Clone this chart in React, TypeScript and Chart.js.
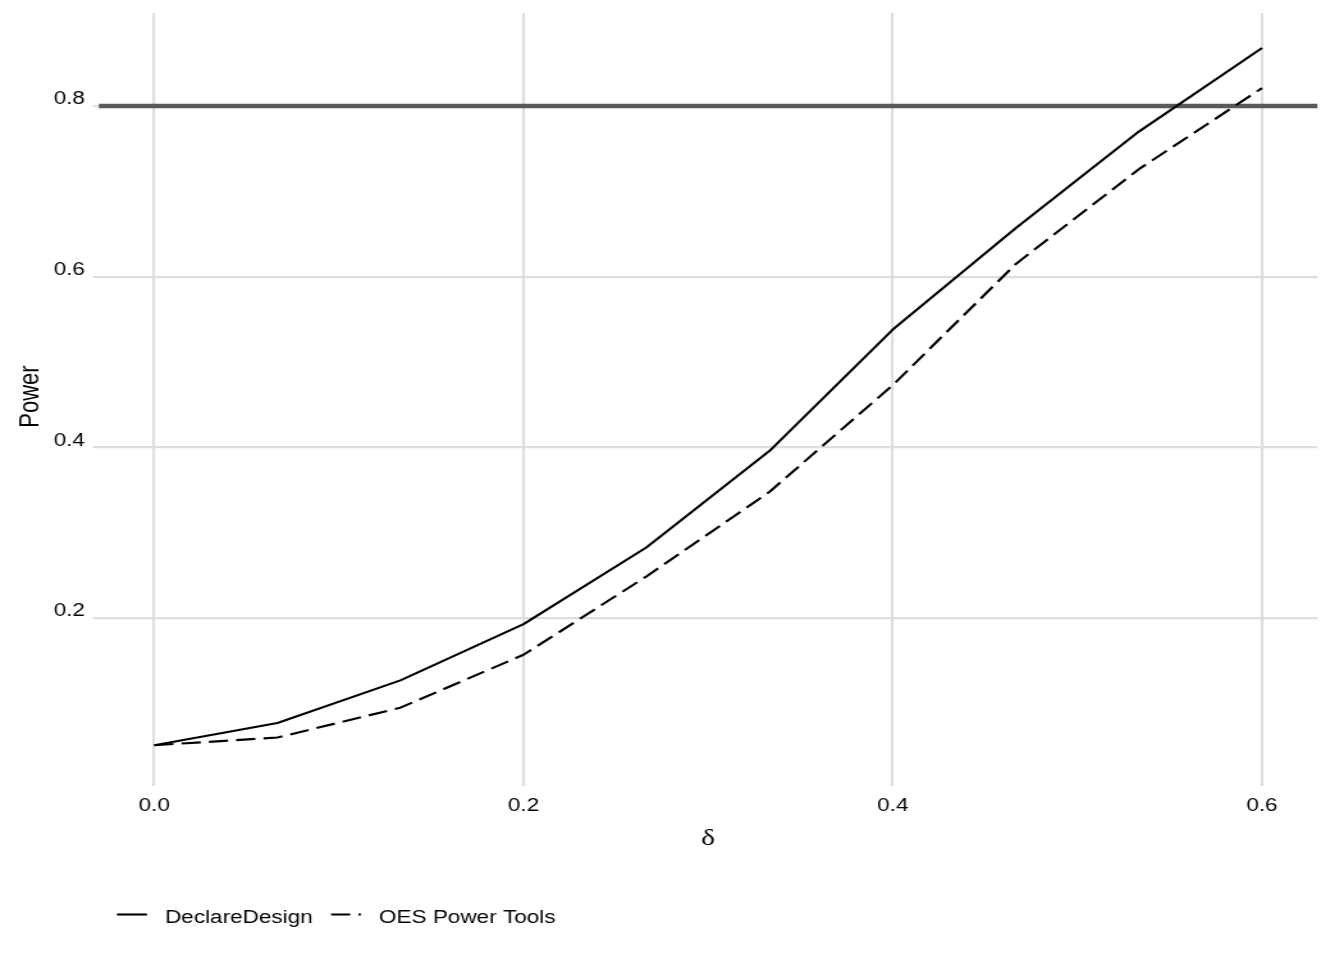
import React, { useEffect, useRef } from "react";
import { Chart, registerables } from "chart.js";

Chart.register(...registerables);

// ---- data ----
const deltaValues = [0, 0.0667, 0.1333, 0.2, 0.2667, 0.3333, 0.4, 0.4667, 0.5333, 0.6];
const declareDesignPower = [0.051, 0.077, 0.127, 0.193, 0.283, 0.396, 0.538, 0.657, 0.77, 0.868];
const oesPowerToolsPower = [0.051, 0.06, 0.095, 0.157, 0.249, 0.348, 0.473, 0.615, 0.726, 0.821];
const targetPower = 0.8;
const xTickValues = [0, 0.2, 0.4, 0.6];
const yTickValues = [0.2, 0.4, 0.6, 0.8];
const seriesLabels = ["DeclareDesign", "OES Power Tools"];
const xAxisTitle = "δ";
const yAxisTitle = "Power";

// ---- layout (canvas is drawn at 1050 wide and shown stretched to 1344) ----
const CANVAS_W = 1050;
const CANVAS_H = 960;
const SANS = "'Liberation Sans', Arial, Helvetica, sans-serif";
const SERIF = "'Liberation Serif', 'Times New Roman', serif";
const GRID = "#dedede";
const LINE_W = 2.13;
const DASH = [15, 6.4];

function expand(values: number[], mult: number): [number, number] {
  const lo = Math.min(...values);
  const hi = Math.max(...values);
  const span = hi - lo;
  return [lo - span * mult, hi + span * mult];
}

const [xMin, xMax] = expand(deltaValues, 0.05);
const [yMin, yMax] = expand([...declareDesignPower, ...oesPowerToolsPower, targetPower], 0.05);

const hlinePlugin = {
  id: "targetLine",
  beforeDatasetsDraw(chart: any) {
    const { ctx, chartArea, scales } = chart;
    const y = scales.y.getPixelForValue(targetPower);
    ctx.save();
    ctx.strokeStyle = "#595959";
    ctx.lineWidth = 4.7;
    ctx.lineCap = "butt";
    ctx.beginPath();
    ctx.moveTo(chartArea.left, y);
    ctx.lineTo(chartArea.right, y);
    ctx.stroke();
    ctx.restore();
  },
};

const legendPlugin = {
  id: "bottomLegend",
  afterDraw(chart: any) {
    const ctx = chart.ctx;
    const keyY = 914.5;
    const baseline = 922.7;
    const keyLen = 23.4;
    let x = 91.4;
    ctx.save();
    ctx.font = `17.6px ${SANS}`;
    chart.data.datasets.forEach((ds: any) => {
      ctx.save();
      ctx.strokeStyle = ds.borderColor;
      ctx.lineWidth = LINE_W;
      ctx.lineCap = "butt";
      ctx.setLineDash(ds.borderDash || []);
      ctx.beginPath();
      ctx.moveTo(x, keyY);
      ctx.lineTo(x + keyLen, keyY);
      ctx.stroke();
      ctx.restore();
      const tx = x + keyLen + 14.1;
      ctx.fillStyle = "#000";
      ctx.textAlign = "left";
      ctx.textBaseline = "alphabetic";
      ctx.fillText(ds.label, tx, baseline);
      x = tx + ctx.measureText(ds.label).width + 14.3;
    });
    ctx.restore();
  },
};

export default function App() {
  const canvasRef = useRef<HTMLCanvasElement | null>(null);

  useEffect(() => {
    const canvas = canvasRef.current;
    if (!canvas) return;
    const chart = new Chart(canvas, {
      type: "line",
      data: {
        datasets: [
          {
            label: seriesLabels[0],
            data: deltaValues.map((d, i) => ({ x: d, y: declareDesignPower[i] })),
            borderColor: "#000",
            backgroundColor: "#000",
            borderWidth: LINE_W,
            borderJoinStyle: "round",
            pointRadius: 0,
            tension: 0,
          },
          {
            label: seriesLabels[1],
            data: deltaValues.map((d, i) => ({ x: d, y: oesPowerToolsPower[i] })),
            borderColor: "#000",
            backgroundColor: "#000",
            borderWidth: LINE_W,
            borderDash: DASH,
            borderJoinStyle: "round",
            pointRadius: 0,
            tension: 0,
          },
        ],
      },
      options: {
        animation: false,
        responsive: false,
        devicePixelRatio: 1,
        layout: {
          autoPadding: false,
          padding: { top: 13.1, right: 20.8, bottom: 80, left: 0 },
        },
        plugins: {
          legend: { display: false },
          tooltip: { enabled: false },
        },
        scales: {
          x: {
            type: "linear",
            min: xMin,
            max: xMax,
            afterBuildTicks: (s: any) => {
              s.ticks = xTickValues.map((v) => ({ value: v }));
            },
            afterFit: (s: any) => {
              s.height = 99.9;
              s.paddingLeft = 0;
              s.paddingRight = 0;
            },
            border: { display: false },
            grid: {
              color: GRID,
              lineWidth: LINE_W,
              drawTicks: true,
              tickLength: 6,
              tickColor: GRID,
            },
            ticks: {
              autoSkip: false,
              maxRotation: 0,
              padding: 9.8,
              color: "#000",
              font: { family: SANS, size: 17.6 },
              callback: (v: any) => Number(v).toFixed(1),
            },
            title: {
              display: true,
              text: xAxisTitle,
              color: "#000",
              font: { family: SERIF, size: 23 },
              padding: { top: 0, bottom: 27.2 },
            },
          },
          y: {
            type: "linear",
            min: yMin,
            max: yMax,
            afterBuildTicks: (s: any) => {
              s.ticks = yTickValues.map((v) => ({ value: v }));
            },
            afterFit: (s: any) => {
              s.width = 77.27;
              s.paddingTop = 0;
              s.paddingBottom = 0;
            },
            border: { display: false },
            grid: {
              color: GRID,
              lineWidth: LINE_W,
              drawTicks: true,
              tickLength: 4.7,
              tickColor: GRID,
            },
            ticks: {
              autoSkip: false,
              padding: 6.2,
              labelOffset: -6.5,
              color: "#000",
              font: { family: SANS, size: 17.6 },
              callback: (v: any) => Number(v).toFixed(1),
            },
            title: {
              display: true,
              text: yAxisTitle,
              color: "#000",
              font: { family: SANS, size: 22 },
              padding: { top: 10.9, bottom: 0 },
            },
          },
        },
      },
      plugins: [hlinePlugin, legendPlugin],
    } as any);
    return () => chart.destroy();
  }, []);

  return (
    <div style={{ position: "absolute", left: 0, top: 0, width: 1344, height: 960, background: "#fff" }}>
      <canvas
        ref={canvasRef}
        width={CANVAS_W}
        height={CANVAS_H}
        style={{ display: "block", width: "1344px", height: "960px" }}
      />
    </div>
  );
}
